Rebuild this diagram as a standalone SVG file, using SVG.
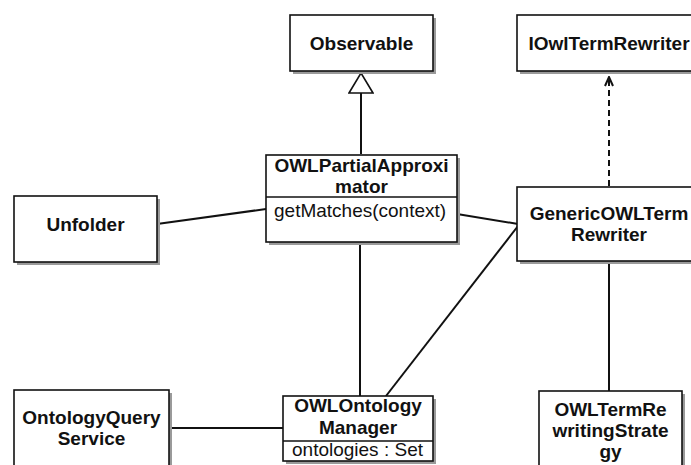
<svg xmlns="http://www.w3.org/2000/svg" width="691" height="465" viewBox="0 0 691 465">
<style>
.box{fill:#fff;stroke:#111;stroke-width:1.6}
.sh{fill:#9a9a9a}
.t{font-family:"Liberation Sans",Arial,sans-serif;font-size:19px;font-weight:bold;fill:#111;text-anchor:middle}
.r{font-family:"Liberation Sans",Arial,sans-serif;font-size:19px;fill:#111}
.ln{stroke:#111;stroke-width:2;fill:none}
.dv{stroke:#111;stroke-width:1.4}
</style>
<defs>
<marker id="tri" viewBox="0 0 22 26" refX="1" refY="13" markerWidth="22" markerHeight="26" markerUnits="userSpaceOnUse" orient="auto">
<path d="M1 1 L21 13 L1 25 Z" fill="#fff" stroke="#111" stroke-width="1.6"/>
</marker>
<marker id="open" viewBox="0 0 10 12" refX="5" refY="1" markerWidth="10" markerHeight="12" markerUnits="userSpaceOnUse" orient="0">
<path d="M1 10 L5 1 L9 10" fill="none" stroke="#111" stroke-width="2"/>
</marker>
</defs>
<rect width="691" height="465" fill="#fff"/>
<g id="connectors">
<line class="ln" x1="361" y1="154" x2="361" y2="93" marker-end="url(#tri)"/>
<line class="ln" x1="609" y1="186" x2="609" y2="77" stroke-dasharray="6 4" marker-end="url(#open)"/>
<line class="ln" x1="157" y1="224" x2="266" y2="209"/>
<line class="ln" x1="457" y1="214" x2="518" y2="224"/>
<line class="ln" x1="518" y1="226" x2="386" y2="396"/>
<line class="ln" x1="360" y1="242" x2="360" y2="396"/>
<line class="ln" x1="609" y1="261" x2="609" y2="391"/>
<line class="ln" x1="169" y1="428" x2="283" y2="428"/>
</g>
<g id="observable">
<rect class="sh" x="293" y="18" width="143" height="56"/>
<rect class="box" x="290" y="15" width="143" height="56"/>
<text class="t" x="361.5" y="50">Observable</text>
</g>
<g id="iowltermrewriter">
<rect class="sh" x="520" y="18" width="184" height="56"/>
<rect class="box" x="517" y="15" width="184" height="56"/>
<text class="t" x="609" y="50">IOwlTermRewriter</text>
</g>
<g id="owlpartialapproximator">
<rect class="sh" x="269" y="158" width="191" height="87"/>
<rect class="box" x="266" y="155" width="191" height="87"/>
<line class="dv" x1="266" y1="197" x2="457" y2="197"/>
<text class="t" x="361.5" y="172">OWLPartialApproxi</text>
<text class="t" x="361.5" y="193">mator</text>
<text class="r" x="274" y="217">getMatches(context)</text>
</g>
<g id="unfolder">
<rect class="sh" x="17" y="199" width="143" height="66"/>
<rect class="box" x="14" y="196" width="143" height="66"/>
<text class="t" x="85.5" y="231">Unfolder</text>
</g>
<g id="genericowltermrewriter">
<rect class="sh" x="520" y="190" width="184" height="74"/>
<rect class="box" x="517" y="187" width="184" height="74"/>
<text class="t" x="609" y="220">GenericOWLTerm</text>
<text class="t" x="609" y="241">Rewriter</text>
</g>
<g id="ontologyqueryservice">
<rect class="sh" x="17" y="393" width="155" height="80"/>
<rect class="box" x="14" y="390" width="155" height="80"/>
<text class="t" x="91.5" y="424">OntologyQuery</text>
<text class="t" x="91.5" y="445">Service</text>
</g>
<g id="owlontologymanager">
<rect class="sh" x="286" y="399" width="150" height="65"/>
<rect class="box" x="283" y="396" width="150" height="65"/>
<line class="dv" x1="283" y1="441" x2="433" y2="441"/>
<text class="t" x="358" y="412">OWLOntology</text>
<text class="t" x="358" y="434">Manager</text>
<text class="r" x="292" y="456">ontologies : Set</text>
</g>
<g id="owltermrewritingstrategy">
<rect class="sh" x="542" y="394" width="143" height="80"/>
<rect class="box" x="539" y="391" width="143" height="80"/>
<text class="t" x="610.5" y="416">OWLTermRe</text>
<text class="t" x="610.5" y="437">writingStrate</text>
<text class="t" x="610.5" y="458">gy</text>
</g>
</svg>
